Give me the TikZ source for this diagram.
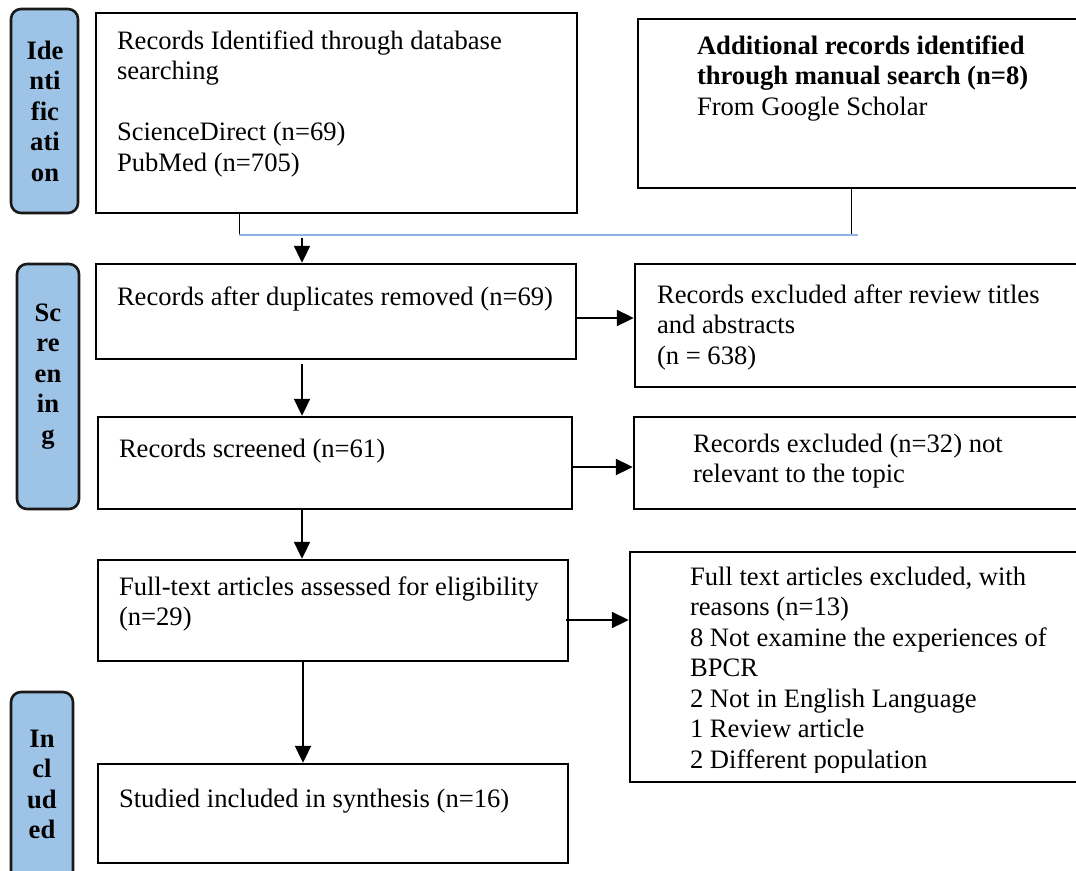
\documentclass[tikz,border=0pt]{standalone}
\usepackage{fontspec}
\setmainfont{Liberation Serif}
\usetikzlibrary{arrows.meta,fit}
\definecolor{sidefill}{RGB}{157,195,230}
\definecolor{sideline}{RGB}{25,25,25}
\definecolor{joinblue}{RGB}{141,180,226}
\newcommand{\ml}[1]{\begin{tabular}[t]{@{}l@{}}#1\end{tabular}}
\newcommand{\mc}[1]{\begin{tabular}[t]{@{}c@{}}#1\end{tabular}}
\tikzset{
  box/.style={draw=black, line width=2.4pt, fill=white, inner sep=0pt, rectangle},
  side/.style={draw=sideline, line width=2.6pt, fill=sidefill, inner sep=0pt, rounded corners=10pt},
  txt/.style={inner sep=0pt, outer sep=0pt, anchor=base west, font=\fontsize{26.6}{30.5}\selectfont},
  sidetxt/.style={inner sep=0pt, outer sep=0pt, anchor=base, font=\fontsize{26.6}{30.5}\selectfont\bfseries},
  arr/.style={line width=2pt, -{Triangle[length=17pt,width=16pt]}},
  thinline/.style={line width=1pt, black},
  blueline/.style={line width=1.3pt, joinblue},
}
\begin{document}
\begin{tikzpicture}[x=1pt,y=-1pt]
\useasboundingbox (0,0) rectangle (1076,870);
\clip (0,0) rectangle (1076,870);
% side labels
\node[side, fit={(11,9) (78,213)}] (sI) {};
\node[side, fit={(17,264) (79,509)}] (sS) {};
\node[side, fit={(11,692) (73,905)}] (sC) {};
\node[sidetxt] (tI) at (45,59) {\mc{Ide\\nti\\fic\\ati\\on}};
\node[sidetxt] (tS) at (48,321) {\mc{Sc\\re\\en\\in\\g}};
\node[sidetxt] (tC) at (42,747) {\mc{In\\cl\\ud\\ed}};
% main boxes
\node[box, fit={(96,13) (577,213)}] (A) {};
\node[box, fit={(638,19) (1095,188)}] (B) {};
\node[box, fit={(96,264) (576,359)}] (C) {};
\node[box, fit={(635,264) (1095,387)}] (F) {};
\node[box, fit={(98,417) (572,509)}] (D) {};
\node[box, fit={(634,417) (1095,509)}] (G) {};
\node[box, fit={(98,560) (568,661)}] (E) {};
\node[box, fit={(630,552) (1095,782)}] (H) {};
\node[box, fit={(98,764) (568,863)}] (I) {};
% texts
\node[txt] (tA) at (117,49) {\ml{Records Identified through database\\searching\\ \\ScienceDirect (n=69)\\PubMed (n=705)}};
\node[txt] (tB) at (697,54) {\ml{\textbf{Additional records identified}\\\textbf{through manual search (n=8)}\\From Google Scholar}};
\node[txt] (tCC) at (117,305) {Records after duplicates removed (n=69)};
\node[txt] (tF) at (657,303) {\ml{Records excluded after review titles\\and abstracts\\(n = 638)}};
\node[txt] (tD) at (119,457) {Records screened (n=61)};
\node[txt] (tG) at (693,452) {\ml{Records excluded (n=32) not\\relevant to the topic}};
\node[txt] (tE) at (119,595) {\ml{Full-text articles assessed for eligibility\\(n=29)}};
\node[txt] (tII) at (119,807) {Studied included in synthesis (n=16)};
\begin{scope}
\clip (630,552) rectangle (1076,772);
\node[txt] (tH) at (690,585) {\ml{Full text articles excluded, with\\reasons (n=13)\\8 Not examine the experiences of\\BPCR\\2 Not in English Language\\1 Review article\\2 Different population}};
\end{scope}
% joining lines
\coordinate (jL) at (239,235);
\coordinate (jR) at (851,235);
\coordinate (jE) at (858,235);
\coordinate (aS) at (302,238);
\coordinate (x302) at (302,0);
\coordinate (x303) at (303,0);
\coordinate (yCF) at (0,318);
\coordinate (yDG) at (0,467);
\coordinate (yEH) at (0,620);
\draw[thinline] (A.south -| jL) -- (jL);
\draw[thinline] (B.south -| jR) -- (jR);
\draw[blueline] (jL) -- (jE);
% arrows
\draw[arr] (aS) -- (aS |- C.north);
\draw[arr, shorten <=4pt] (C.south -| x302) -- (D.north -| x302);
\draw[arr] (D.south -| x302) -- (E.north -| x302);
\draw[arr] (E.south -| x303) -- (I.north -| x303);
\draw[arr] (C.east |- yCF) -- (F.west |- yCF);
\draw[arr] (D.east |- yDG) -- (G.west |- yDG);
\draw[arr, shorten <=-3pt] (E.east |- yEH) -- (H.west |- yEH);
\end{tikzpicture}
\end{document}
